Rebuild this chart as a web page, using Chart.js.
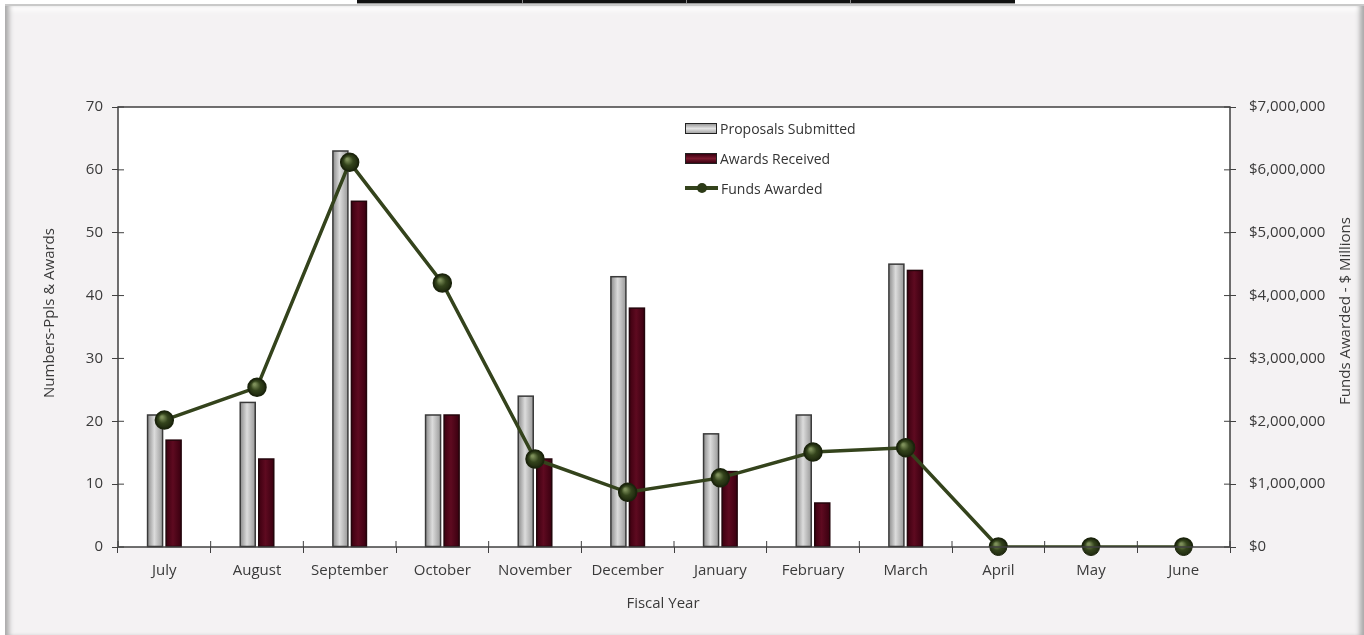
<!DOCTYPE html>
<html>
<head>
<meta charset="utf-8">
<script src="https://cdn.jsdelivr.net/npm/chart.js@4"></script>
<style>
  body { margin: 0; background: #fff; width: 1364px; height: 635px; overflow: hidden; font-family: "Open Sans", sans-serif; }
  #strip { position: absolute; left: 357px; top: 0; width: 658px; height: 3px; background: #111; border-bottom: 1px solid #999; }
  #strip i { position: absolute; top: 0; width: 1px; height: 3px; background: #888; }
  #frame { position: absolute; left: 5px; top: 4px; width: 1359px; height: 631px; background: #f4f2f3;
           border-top: 2px solid #c9c9c9; box-sizing: border-box;
           box-shadow: inset 7px 0 5px -3px #a9a9a9, inset -7px 0 5px -3px #a9a9a9, inset 0 8px 6px -4px #fff; }
  #chartBox { position: absolute; left: 0; top: 0; width: 1364px; height: 635px; }
  #legend { position: absolute; left: 685px; top: 113px; font-size: 14px; color: #333; }
  #legend div { height: 30px; display: flex; align-items: center; }
  #legend span.ico { width: 30px; height: 9px; margin-right: 3px; border: 1.5px solid #222; }
  .grayIco { background: linear-gradient(#9a9a9a, #e4e4e4 50%, #a6a6a6); }
  .redIco { background: linear-gradient(#3a0010, #7a1a2e 50%, #3a0010); }
  #legend span.lineIco { width: 33px; height: 10px; margin-right: 3px; position: relative; }
  .lineIco:before { content: ""; position: absolute; left: 0; right: 0; top: 3px; height: 4px; background: #34431c; }
  .lineIco:after { content: ""; position: absolute; left: 12px; top: 0; width: 10px; height: 10px; border-radius: 50%; background: #2c3a17; }
</style>
</head>
<body>
<div id="strip"><i style="left:165px"></i><i style="left:329px"></i><i style="left:493px"></i></div>
<div id="frame"></div>
<div id="chartBox"><canvas id="fundsChart" width="1364" height="635"></canvas></div>
<div id="legend">
  <div><span class="ico grayIco"></span>Proposals Submitted</div>
  <div><span class="ico redIco"></span>Awards Received</div>
  <div><span class="lineIco"></span>Funds Awarded</div>
</div>
<script>
// chart values
const months = ['July', 'August', 'September', 'October', 'November', 'December',
  'January', 'February', 'March', 'April', 'May', 'June'];
const proposals = [21, 23, 63, 21, 24, 43, 18, 21, 45, null, null, null];
const awards = [17, 14, 55, 21, 14, 38, 12, 7, 44, null, null, null];
const funds = [2020000, 2540000, 6120000, 4200000, 1400000, 870000, 1100000, 1510000, 1580000, 0, 0, 0];
const countTicks = [0, 10, 20, 30, 40, 50, 60, 70];
const fundTicks = [0, 1000000, 2000000, 3000000, 4000000, 5000000, 6000000, 7000000];

const axisColor = '#404040';
const textColor = '#3a3a3a';
const font = { family: '"Open Sans", sans-serif', size: 15 };

// bevel look for bars, spheres for points, frame + titles
const decor = {
  id: 'decor',
  beforeDraw(chart) {
    const { ctx, chartArea: a } = chart;
    ctx.save();
    ctx.fillStyle = '#fff';
    ctx.fillRect(a.left, a.top, a.width, a.height);
    ctx.restore();
  },
  afterDatasetDraw(chart, args) {
    const ctx = chart.ctx;
    const meta = args.meta;
    ctx.save();
    if (meta.type === 'bar') {
      const gray = args.index === 1;
      meta.data.forEach((el, i) => {
        const v = chart.data.datasets[args.index].data[i];
        if (v === null) return;
        const p = el.getProps(['x', 'y', 'base', 'width'], true);
        const left = p.x - p.width / 2;
        const top = Math.min(p.y, p.base);
        const h = Math.abs(p.base - p.y);
        const g = ctx.createLinearGradient(left, 0, left + p.width, 0);
        if (gray) {
          g.addColorStop(0, '#8c8c8c');
          g.addColorStop(0.45, '#dcdcdc');
          g.addColorStop(1, '#9a9a9a');
        } else {
          g.addColorStop(0, '#3d0010');
          g.addColorStop(0.45, '#5e0a20');
          g.addColorStop(1, '#3a0010');
        }
        ctx.fillStyle = g;
        ctx.fillRect(left, top, p.width, h);
        ctx.lineWidth = 1.5;
        ctx.strokeStyle = gray ? '#3a3a3a' : '#24060c';
        ctx.strokeRect(left, top, p.width, h);
      });
    } else if (meta.type === 'line') {
      meta.data.forEach((el) => {
        const p = el.getProps(['x', 'y'], true);
        const g = ctx.createRadialGradient(p.x - 2.5, p.y - 3, 1, p.x, p.y, 8.5);
        g.addColorStop(0, '#7d8f5a');
        g.addColorStop(0.5, '#34441c');
        g.addColorStop(1, '#1e280e');
        ctx.beginPath();
        ctx.arc(p.x, p.y, 8.5, 0, Math.PI * 2);
        ctx.fillStyle = g;
        ctx.fill();
        ctx.lineWidth = 1;
        ctx.strokeStyle = '#1b240c';
        ctx.stroke();
      });
    }
    ctx.restore();
  },
  afterDraw(chart) {
    const { ctx, chartArea: a, scales } = chart;
    ctx.save();
    ctx.strokeStyle = axisColor;
    ctx.lineWidth = 1.5;
    ctx.strokeRect(a.left, a.top, a.width, a.height);
    // inner half of the crossing ticks
    ctx.lineWidth = 1;
    ctx.beginPath();
    scales.y.ticks.forEach((t, i) => {
      const y = scales.y.getPixelForTick(i);
      ctx.moveTo(a.left, y); ctx.lineTo(a.left + 6, y);
    });
    scales.y2.ticks.forEach((t, i) => {
      const y = scales.y2.getPixelForTick(i);
      ctx.moveTo(a.right, y); ctx.lineTo(a.right - 6, y);
    });
    for (let i = 0; i <= months.length; i++) {
      const x = a.left + a.width * i / months.length;
      ctx.moveTo(x, a.bottom); ctx.lineTo(x, a.bottom - 6);
    }
    ctx.stroke();
    // axis titles
    ctx.fillStyle = textColor;
    ctx.font = '15px "Open Sans", sans-serif';
    ctx.textAlign = 'center';
    ctx.textBaseline = 'middle';
    ctx.fillText('Fiscal Year', 663, 604);
    ctx.translate(50, 313);
    ctx.rotate(-Math.PI / 2);
    ctx.fillText('Numbers-Ppls & Awards', 0, 0);
    ctx.setTransform(1, 0, 0, 1, 0, 0);
    ctx.translate(1346, 311);
    ctx.rotate(-Math.PI / 2);
    ctx.fillText('Funds Awarded - $ Millions', 0, 0);
    ctx.restore();
  }
};

const ctx = document.getElementById('fundsChart').getContext('2d');
new Chart(ctx, {
  data: {
    labels: months,
    datasets: [{
      type: 'line',
      label: 'Funds Awarded',
      data: funds,
      yAxisID: 'y2',
      borderColor: '#34431c',
      borderWidth: 3.5,
      pointRadius: 8,
      pointBackgroundColor: '#2c3a17',
      pointBorderColor: '#1b240c',
      tension: 0,
      order: 0
    }, {
      type: 'bar',
      label: 'Proposals Submitted',
      data: proposals,
      yAxisID: 'y',
      backgroundColor: '#b8b8b8',
      categoryPercentage: 0.4,
      barPercentage: 0.81,
      order: 1
    }, {
      type: 'bar',
      label: 'Awards Received',
      data: awards,
      yAxisID: 'y',
      backgroundColor: '#5a0a1e',
      categoryPercentage: 0.4,
      barPercentage: 0.81,
      order: 1
    }]
  },
  options: {
    responsive: false,
    animation: false,
    events: [],
    layout: { padding: { left: 38, right: 10, top: 107, bottom: 19 } },
    scales: {
      x: {
        offset: true,
        grid: { display: true, drawOnChartArea: false, offset: true, color: axisColor, tickLength: 6 },
        border: { display: false },
        ticks: { color: textColor, font: font, padding: 9, maxRotation: 0 },
        afterFit: (s) => { s.height = 69; }
      },
      y: {
        position: 'left',
        min: 0,
        max: 70,
        afterBuildTicks: (s) => { s.ticks = countTicks.map(v => ({ value: v })); },
        grid: { drawOnChartArea: false, color: axisColor, tickLength: 6 },
        border: { display: false },
        ticks: { color: textColor, font: font, padding: 9 },
        afterFit: (s) => { s.width = 80; }
      },
      y2: {
        position: 'right',
        min: 0,
        max: 7000000,
        afterBuildTicks: (s) => { s.ticks = fundTicks.map(v => ({ value: v })); },
        grid: { drawOnChartArea: false, color: axisColor, tickLength: 6 },
        border: { display: false },
        ticks: {
          color: textColor, font: font, padding: 13,
          callback: (v) => '$' + Number(v).toLocaleString('en-US')
        },
        afterFit: (s) => { s.width = 124; }
      }
    },
    plugins: {
      legend: { display: false },
      tooltip: { enabled: false }
    }
  },
  plugins: [decor]
});
</script>
</body>
</html>
